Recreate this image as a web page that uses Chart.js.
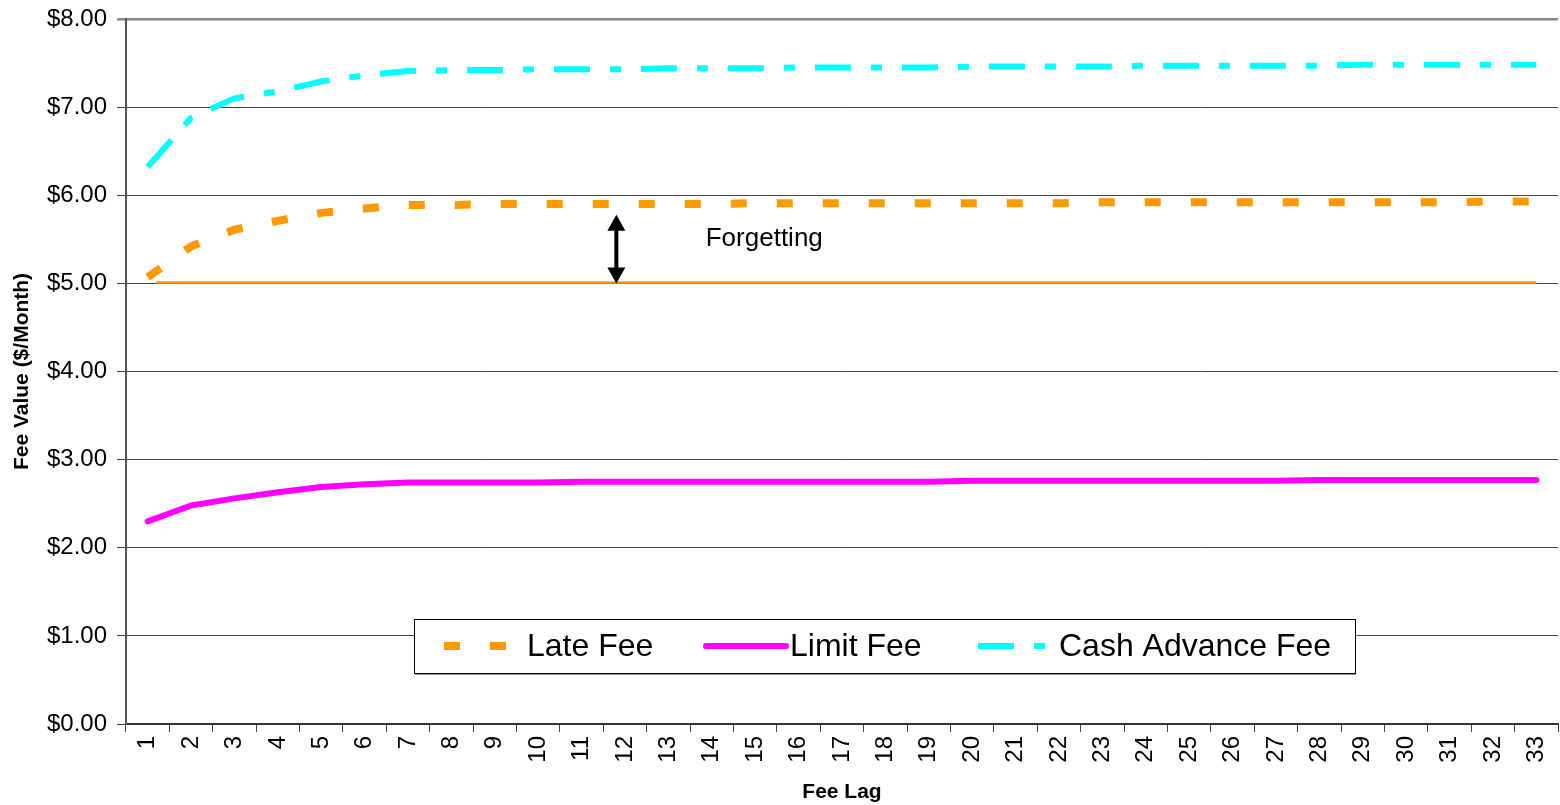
<!DOCTYPE html>
<html>
<head>
<meta charset="utf-8">
<title>Fee Value by Fee Lag</title>
<script src="https://cdn.jsdelivr.net/npm/chart.js@4.4.1/dist/chart.umd.min.js"></script>
<style>
  html, body { margin: 0; padding: 0; background: #fff; }
  #wrap { width: 1560px; height: 805px; position: relative; }
</style>
</head>
<body>
<div id="wrap"><canvas id="chart"></canvas></div>
<script>
// Fee lag categories (months)
const feeLags = ['1','2','3','4','5','6','7','8','9','10','11','12','13','14','15','16','17',
  '18','19','20','21','22','23','24','25','26','27','28','29','30','31','32','33'];

// Fee values in $/month per lag
const lateFee = [5.07, 5.42, 5.61, 5.71, 5.80, 5.85, 5.89, 5.89, 5.90, 5.90, 5.90, 5.90, 5.90,
  5.90, 5.91, 5.91, 5.91, 5.91, 5.91, 5.91, 5.91, 5.91, 5.92, 5.92, 5.92, 5.92, 5.92, 5.92,
  5.92, 5.92, 5.92, 5.93, 5.93];

const limitFee = [2.30, 2.48, 2.56, 2.63, 2.69, 2.72, 2.74, 2.74, 2.74, 2.74, 2.75, 2.75, 2.75,
  2.75, 2.75, 2.75, 2.75, 2.75, 2.75, 2.76, 2.76, 2.76, 2.76, 2.76, 2.76, 2.76, 2.76, 2.77,
  2.77, 2.77, 2.77, 2.77, 2.77];

const cashAdvanceFee = [6.32, 6.88, 7.10, 7.18, 7.29, 7.36, 7.41, 7.42, 7.42, 7.43, 7.43, 7.43,
  7.44, 7.44, 7.44, 7.45, 7.45, 7.45, 7.45, 7.46, 7.46, 7.46, 7.46, 7.47, 7.47, 7.47, 7.47,
  7.47, 7.48, 7.48, 7.48, 7.48, 7.48];

// Y axis range and step ($)
const yTicks = [0, 1, 2, 3, 4, 5, 6, 7, 8];

// Reference level, and the "Forgetting" gap annotation (data units)
const baseFee = 5.00;
const baseLineFrom = 0.2, baseLineTo = 32.0;           // category index span
const arrowAt = 10.8, arrowTop = 5.78;                  // category index, $ value
const noteText = 'Forgetting';
const noteAt = 12.86, noteValue = 5.5;

const FONT = "'Liberation Sans', Arial, Helvetica, sans-serif";

const ORANGE = '#FF9900', MAGENTA = '#FF00FF', CYAN = '#00FFFF';

// Reference line plus double-headed arrow and its note
const annotationPlugin = {
  id: 'forgetting',
  beforeDatasetsDraw(chart) {
    const { ctx, scales: { x, y } } = chart;
    const yb = y.getPixelForValue(baseFee) - 1;
    ctx.save();
    ctx.strokeStyle = ORANGE;
    ctx.lineWidth = 2.5;
    ctx.beginPath();
    ctx.moveTo(x.getPixelForValue(baseLineFrom), yb);
    ctx.lineTo(x.getPixelForValue(baseLineTo), yb);
    ctx.stroke();
    ctx.restore();
  },
  afterDatasetsDraw(chart) {
    const { ctx, scales: { x, y } } = chart;
    const ax = x.getPixelForValue(arrowAt);
    const yTop = y.getPixelForValue(arrowTop);
    const yBot = y.getPixelForValue(baseFee);
    const hw = 9, hh = 16;
    ctx.save();
    ctx.fillStyle = '#000';
    ctx.strokeStyle = '#000';
    ctx.lineWidth = 4;
    ctx.beginPath();
    ctx.moveTo(ax, yTop + hh - 1);
    ctx.lineTo(ax, yBot - hh + 1);
    ctx.stroke();
    ctx.beginPath();
    ctx.moveTo(ax, yTop);
    ctx.lineTo(ax + hw, yTop + hh);
    ctx.lineTo(ax - hw, yTop + hh);
    ctx.closePath();
    ctx.fill();
    ctx.beginPath();
    ctx.moveTo(ax, yBot);
    ctx.lineTo(ax + hw, yBot - hh);
    ctx.lineTo(ax - hw, yBot - hh);
    ctx.closePath();
    ctx.fill();
    ctx.font = '26px ' + FONT;
    ctx.textAlign = 'left';
    ctx.textBaseline = 'middle';
    ctx.fillText(noteText, x.getPixelForValue(noteAt), y.getPixelForValue(noteValue));
    ctx.restore();
  }
};

// Boxed legend inside the plot area
const boxLegendPlugin = {
  id: 'boxLegend',
  afterDraw(chart) {
    const { ctx } = chart;
    const box = { l: 414, t: 619, w: 941, h: 54 };
    const cy = box.t + box.h / 2;
    const items = [
      { ds: 0, from: 444, to: 506, text: 527 },
      { ds: 1, from: 706, to: 786, text: 790 },
      { ds: 2, from: 978, to: 1045, text: 1059 }
    ];
    ctx.save();
    ctx.fillStyle = '#fff';
    ctx.fillRect(box.l, box.t, box.w, box.h);
    ctx.strokeStyle = '#000';
    ctx.lineWidth = 1;
    ctx.strokeRect(box.l + 0.5, box.t + 0.5, box.w, box.h);
    ctx.strokeStyle = '#999';
    ctx.beginPath();
    ctx.moveTo(box.l + 1, box.t + box.h + 1.5);
    ctx.lineTo(box.l + box.w + 1, box.t + box.h + 1.5);
    ctx.stroke();
    items.forEach(it => {
      const ds = chart.data.datasets[it.ds];
      ctx.save();
      ctx.strokeStyle = ds.borderColor;
      ctx.lineWidth = ds.borderWidth;
      ctx.lineCap = ds.borderCapStyle || 'butt';
      ctx.setLineDash(ds.borderDash || []);
      ctx.beginPath();
      ctx.moveTo(it.from, cy);
      ctx.lineTo(it.to, cy);
      ctx.stroke();
      ctx.restore();
      ctx.fillStyle = '#000';
      ctx.font = '32px ' + FONT;
      ctx.textAlign = 'left';
      ctx.textBaseline = 'middle';
      ctx.fillText(ds.label, it.text, cy + 1);
    });
    ctx.restore();
  }
};

// Keep the plot box fixed: no automatic label overhang padding
function noOverhang(scale) {
  scale.paddingLeft = 0;
  scale.paddingRight = 0;
  scale.paddingTop = 0;
  scale.paddingBottom = 0;
}

new Chart(document.getElementById('chart'), {
  type: 'line',
  data: {
    labels: feeLags,
    datasets: [
      {
        label: 'Late Fee',
        data: lateFee,
        borderColor: ORANGE,
        backgroundColor: ORANGE,
        borderWidth: 8,
        borderDash: [16, 30],
        borderCapStyle: 'butt',
        borderJoinStyle: 'miter',
        pointRadius: 0,
        tension: 0
      },
      {
        label: 'Limit Fee',
        data: limitFee,
        borderColor: MAGENTA,
        backgroundColor: MAGENTA,
        borderWidth: 6,
        borderCapStyle: 'round',
        borderJoinStyle: 'round',
        pointRadius: 0,
        tension: 0
      },
      {
        label: 'Cash Advance Fee',
        data: cashAdvanceFee,
        borderColor: CYAN,
        backgroundColor: CYAN,
        borderWidth: 6,
        borderDash: [36, 20, 11, 20],
        borderCapStyle: 'butt',
        borderJoinStyle: 'miter',
        pointRadius: 0,
        tension: 0
      }
    ]
  },
  options: {
    responsive: true,
    maintainAspectRatio: false,
    devicePixelRatio: 1,
    animation: false,
    layout: { padding: { top: 19, right: 2, left: 0, bottom: 0 } },
    plugins: {
      legend: { display: false },
      tooltip: { enabled: false }
    },
    scales: {
      x: {
        type: 'category',
        offset: true,
        grid: {
          offset: true,
          drawOnChartArea: false,
          drawTicks: true,
          tickLength: 8,
          color: '#444',
          lineWidth: 1
        },
        border: { color: '#333', width: 2 },
        ticks: {
          autoSkip: false,
          minRotation: 90,
          maxRotation: 90,
          padding: 4,
          color: '#000',
          font: { family: FONT, size: 24 }
        },
        title: {
          display: true,
          text: 'Fee Lag',
          color: '#000',
          font: { family: FONT, size: 21, weight: 'bold' },
          padding: { top: 0, bottom: 0 }
        },
        afterFit(scale) { scale.height = 81; noOverhang(scale); }
      },
      y: {
        min: yTicks[0],
        max: yTicks[yTicks.length - 1],
        afterBuildTicks(scale) { scale.ticks = yTicks.map(v => ({ value: v })); },
        grid: {
          color: ctx => (ctx.tick && ctx.tick.value === 8) ? '#888' : '#444',
          lineWidth: ctx => (ctx.tick && ctx.tick.value === 8) ? 2.5 : 1,
          tickLength: 9,
          drawTicks: true
        },
        border: { color: '#555', width: 2 },
        ticks: {
          padding: 10,
          color: '#000',
          font: { family: FONT, size: 24 },
          callback: v => '$' + Number(v).toFixed(2)
        },
        title: {
          display: true,
          text: 'Fee Value ($/Month)',
          color: '#000',
          font: { family: FONT, size: 21, weight: 'bold' },
          padding: { top: 10, bottom: 0 }
        },
        afterFit(scale) { scale.width = 126; noOverhang(scale); }
      }
    }
  },
  plugins: [annotationPlugin, boxLegendPlugin]
});
</script>
</body>
</html>
